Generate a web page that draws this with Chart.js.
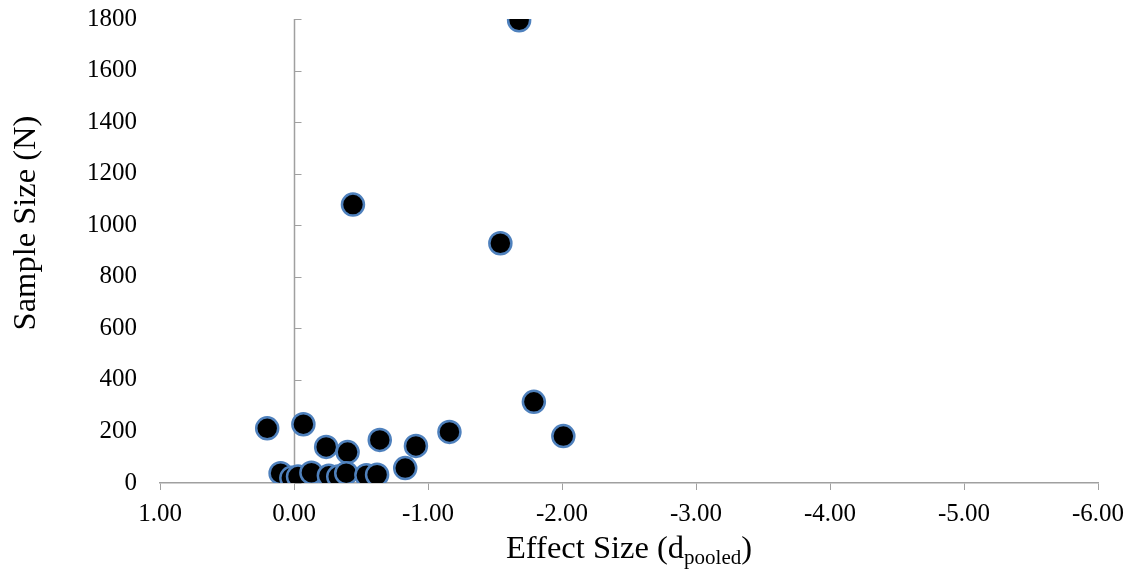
<!DOCTYPE html>
<html>
<head>
<meta charset="utf-8">
<script src="https://cdn.jsdelivr.net/npm/chart.js@4/dist/chart.umd.min.js"></script>
<style>
  html, body { margin: 0; padding: 0; background: #fff; }
  #wrap { width: 1132px; height: 569px; }
</style>
</head>
<body>
<div id="wrap"><canvas id="chart"></canvas></div>
<script>
"use strict"

// effect sizes (d pooled) and sample sizes
const effectSizes = [-1.68, -0.44, -1.54, -1.79, 0.20, -0.07, -1.16, -2.01, -0.24, -0.40,
                     -0.64, -0.91, -0.83, 0.10, 0.02, -0.03, -0.13, -0.26, -0.33, -0.39,
                     -0.54, -0.62];
const sampleSizes = [1795, 1080, 930, 315, 212, 228, 198, 182, 140, 120,
                     167, 144, 58, 38, 20, 25, 40, 28, 25, 38,
                     30, 32];

const xTickMin = -6;
const xTickMax = 1;
const yTickMax = 1800;
const yTickStep = 200;

const xTitle = "Effect Size (d";
const xTitleSub = "pooled";
const yTitle = "Sample Size (N)";

const axisGray = "#a0a0a0";
const serif = "'Liberation Serif', 'Times New Roman', serif";

let points = effectSizes.map((x, i) => ({ x: x, y: sampleSizes[i] }));

// vertical axis line at d = 0 with ticks on the right side
const zeroAxis = {
    id: "zeroAxis",
    beforeDatasetsDraw(chart) {
        let ctx = chart.ctx;
        let xs = chart.scales.x, ys = chart.scales.y;
        let x0 = Math.round(xs.getPixelForValue(0)) + 0.5;
        ctx.save();
        ctx.strokeStyle = axisGray;
        ctx.lineWidth = 1.5;
        ctx.beginPath();
        ctx.moveTo(x0, ys.getPixelForValue(yTickMax));
        ctx.lineTo(x0, ys.getPixelForValue(0));
        ctx.stroke();
        ctx.lineWidth = 1;
        ys.ticks.forEach(t => {
            let y = Math.round(ys.getPixelForValue(t.value)) + 0.5;
            ctx.beginPath();
            ctx.moveTo(x0, y);
            ctx.lineTo(x0 + 7, y);
            ctx.stroke();
        });
        ctx.restore();
    }
};

// axis titles (x one has a subscript)
const titlesPlugin = {
    id: "titlesPlugin",
    afterDraw(chart) {
        let ctx = chart.ctx;
        let area = chart.chartArea;
        let big = "32.5px " + serif, small = "21px " + serif;
        ctx.save();
        ctx.fillStyle = "#000";
        ctx.textBaseline = "alphabetic";
        ctx.textAlign = "left";
        ctx.font = big;
        let w1 = ctx.measureText(xTitle).width;
        let w3 = ctx.measureText(")").width;
        ctx.font = small;
        let w2 = ctx.measureText(xTitleSub).width;
        let x = (area.left + area.right) / 2 - (w1 + w2 + w3) / 2;
        let y = 558;
        ctx.font = big;
        ctx.fillText(xTitle, x, y);
        ctx.font = small;
        ctx.fillText(xTitleSub, x + w1, y + 6);
        ctx.font = big;
        ctx.fillText(")", x + w1 + w2, y);

        // y title, rotated
        ctx.translate(26, 223);
        ctx.rotate(-Math.PI / 2);
        ctx.font = big;
        ctx.textAlign = "center";
        ctx.textBaseline = "middle";
        ctx.fillText(yTitle, 0, 0);
        ctx.restore();
    }
};

let chartOptions = {
    type: "scatter",
    data: {
        datasets: [{
            data: points,
            backgroundColor: "#000000",
            borderColor: "#4F81BD",
            borderWidth: 2.5,
            pointRadius: 11,
            pointHoverRadius: 11
        }]
    },
    options: {
        responsive: true,
        maintainAspectRatio: false,
        animation: false,
        layout: { padding: { top: 19, right: 34, left: 0, bottom: 0 } },
        plugins: { legend: { display: false }, tooltip: { enabled: false } },
        scales: {
            x: {
                type: "linear",
                min: xTickMin,
                max: xTickMax,
                reverse: true,
                afterFit: s => { s.height = 86; s.paddingLeft = 0; s.paddingRight = 0; },
                ticks: {
                    stepSize: 1,
                    color: "#000",
                    padding: 9,
                    font: { family: serif, size: 25 },
                    callback: v => Number(v).toFixed(2)
                },
                grid: {
                    display: true,
                    drawOnChartArea: false,
                    drawTicks: true,
                    tickLength: 7,
                    color: axisGray
                },
                border: { display: true, color: axisGray, width: 1.5 }
            },
            y: {
                min: 0,
                max: yTickMax,
                afterFit: s => { s.width = 160; s.paddingTop = 0; s.paddingBottom = 0; },
                ticks: {
                    stepSize: yTickStep,
                    color: "#000",
                    padding: 23,
                    font: { family: serif, size: 25 },
                    callback: v => String(v)
                },
                grid: { display: false, drawTicks: false },
                border: { display: false }
            }
        }
    },
    plugins: [zeroAxis, titlesPlugin]
};

let chart = new Chart(document.getElementById("chart"), chartOptions);
</script>
</body>
</html>
